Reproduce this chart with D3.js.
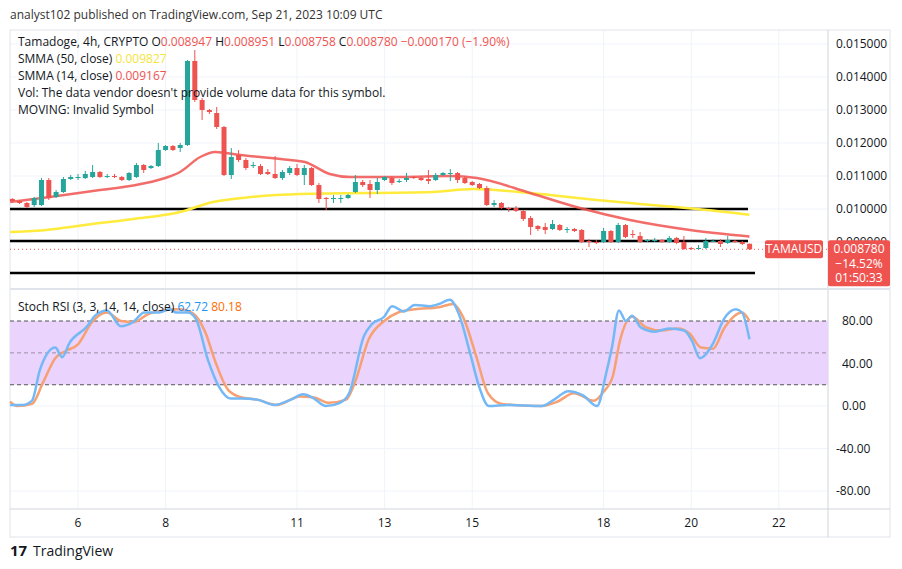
<!DOCTYPE html>
<html><head><meta charset="utf-8">
<script src="https://cdn.jsdelivr.net/npm/d3@7"></script>
<style>body{margin:0;background:#fff;font-family:"Open Sans","Noto Sans",sans-serif}</style>
</head><body><svg id="c" width="902" height="569"></svg>
<script>
// Candle data in millionths of a dollar (4h candles, first at Sep 4 12:00)
const firstDay = 4.5, candleStep = 1/6;
const opens  = [10303,10242,10182,10121,10121,10879,10364,10515,10909,10939,10939,10970,11121,10970,11000,10970,10879,10970,11333,11242,11303,11788,11909,11848,11939,14485,13303,13000,12909,12485,11030,11636,11485,11303,11303,11121,11061,10939,11091,11242,11030,11242,10727,10333,10303,10303,10333,10515,10818,10758,10576,10879,10939,10818,10879,10970,10939,10909,10879,11030,11061,11091,10939,10818,10758,10636,10121,10182,10030,10030,9939,9727,9485,9455,9394,9515,9364,9394,9364,9030,9000,9000,9333,9000,9515,9242,9182,9030,9030,9061,9000,9121,9000,8818,8788,8818,9030,9030,8970,9030,9000,8947];
const closes = [10242,10182,10061,10333,10879,10333,10515,10909,10970,10970,11061,11121,10970,11000,10970,10879,11091,11333,11182,11303,11788,11909,11788,11939,14485,13303,13000,12939,12485,11030,11576,11485,11242,11333,11061,11061,10939,11121,11242,11030,11242,10727,10303,10303,10333,10333,10424,10818,10727,10576,10818,10970,10788,10848,10939,10939,10879,10848,11030,11091,11091,10879,10788,10727,10636,10121,10182,10030,10000,9939,9697,9455,9394,9364,9545,9364,9394,9333,9000,9000,8970,9333,9000,9515,9152,9230,9000,9061,9061,9000,9121,8970,8788,8788,8818,9030,9035,8939,9061,9000,8939,8780];
const highs  = [10333,10273,10212,10364,10939,10939,10576,10970,11030,11061,11152,11333,11152,11061,11061,11000,11121,11394,11364,11333,12000,11939,11939,12000,14515,14818,13363,13030,13091,12515,11848,11788,11545,11424,11364,11212,11606,11182,11303,11364,11333,11273,10788,10364,10424,10424,10455,11030,10879,10879,10939,11000,11000,10909,11091,11000,11000,11182,11091,11121,11212,11121,11000,10848,10788,10697,10273,10212,10061,10091,9970,9788,9515,9576,9667,9545,9455,9424,9394,9091,9061,9424,9364,9576,9545,9364,9303,9091,9121,9091,9182,9152,9182,8848,8909,9121,9091,9091,9182,9061,9030,8951];
const lows   = [10212,10152,10030,10061,10091,10273,10333,10485,10879,10879,10909,10939,10939,10939,10939,10848,10848,10939,11091,11212,11273,11758,11758,11727,11909,13242,12697,12879,12424,11000,10909,11424,11182,11242,11030,11030,10909,10879,11030,11000,10727,10697,10182,9970,10182,10182,10303,10485,10667,10333,10455,10848,10727,10788,10818,10909,10848,10758,10848,11000,10848,10788,10758,10697,10606,10091,10061,10000,9909,9909,9636,9212,9333,9242,9364,9333,9273,9303,8970,8848,8939,8970,8970,8970,9121,9121,8970,9000,9000,8970,8970,8939,8758,8758,8758,8788,9000,8848,8939,8970,8909,8758];

// Moving averages (day, price)
const smma14Days = [4.45,5.36,6.50,7.19,7.99,8.33,8.79,9.13,9.70,10.84,11.18,11.75,12.21,13.35,14.49,15.11,16.32,17.46,18.60,19.97,21.33];
const smma14Vals = [0.010212,0.010364,0.010576,0.010697,0.010939,0.011121,0.011576,0.011727,0.011636,0.011485,0.011424,0.011061,0.010970,0.010970,0.011000,0.010939,0.010485,0.010030,0.009667,0.009364,0.009167];
const smma50Days = [4.45,4.97,6.50,7.26,8.33,9.08,9.54,11.07,14.10,15.02,16.32,17.85,19.36,20.13,21.33];
const smma50Vals = [0.009303,0.009333,0.009576,0.009697,0.009909,0.010212,0.010303,0.010455,0.010515,0.010606,0.010485,0.010273,0.010091,0.010000,0.009827];

// Stoch RSI
const kDays = [4.45,4.74,4.95,5.13,5.48,5.64,5.80,6.21,6.39,6.66,6.98,7.26,7.51,7.85,8.10,8.24,8.51,8.69,8.97,9.22,9.49,9.74,10.09,10.48,10.86,11.14,11.39,11.66,11.98,12.19,12.53,12.71,12.99,13.17,13.44,13.69,14.04,14.24,14.49,14.70,14.95,15.16,15.38,15.82,16.59,16.87,17.19,17.53,17.85,18.06,18.19,18.35,18.51,18.65,18.85,19.17,19.49,19.84,20.02,20.20,20.50,20.75,21.02,21.16,21.33];
const kVals = [1,1,5,34,55,46,59,75,85,90,75,79,88,88,91,88,88,82,43,18,7,7,6,1,6,11,7,0,3,12,66,77,84,94,89,95,94,96,100,86,50,18,0,1,0,6,14,10,0,31,55,90,80,85,74,70,73,71,61,45,59,82,91,88,62.72];
const dDays = [4.45,4.61,4.95,5.20,5.48,5.73,6.00,6.32,6.66,6.98,7.28,7.58,7.96,8.31,8.63,8.90,9.15,9.43,9.74,10.09,10.54,11.07,11.39,11.73,12.12,12.32,12.64,12.99,13.31,13.69,14.24,14.56,14.81,15.09,15.36,15.68,16.59,16.94,17.32,17.78,17.99,18.21,18.37,18.65,18.97,19.31,19.70,19.97,20.22,20.50,20.75,21.16,21.33];
const dVals = [4,0,2,22,45,52,58,79,88,80,79,86,90,91,87,70,40,15,8,6,1,9,8,3,6,22,63,80,88,91,93,96,82,47,12,2,0,4,12,5,13,28,61,84,74,71,73,68,55,54,73,88,80.18];

// Horizontal support/resistance lines (price)
const levels = [0.010000, 0.009030, 0.008061];
const priceTicks = [0.015,0.014,0.013,0.012,0.011,0.010,0.009];
const stochTicks = [80,40,0,-40,-80];
const dateTicks = [6,8,11,13,15,18,20,22];

const svg = d3.select("#c");
const L=10, R=828, pTop=30, pBot=289, sTop=290, sBot=509, axBot=537;
const x = d3.scaleLinear().domain([4.219, 4.219 + 828/43.8]).range([0,828]);
const y = d3.scaleLinear().domain([0.015,0.009]).range([44,242]);
const ys = d3.scaleLinear().domain([80,-80]).range([321,491]);

// frame / grid
const grid="#f0f3fa";
dateTicks.forEach(d=>svg.append("line").attr("x1",x(d)).attr("x2",x(d)).attr("y1",pTop).attr("y2",sBot).attr("stroke",grid));
priceTicks.forEach(p=>svg.append("line").attr("x1",L).attr("x2",R).attr("y1",y(p)).attr("y2",y(p)).attr("stroke",grid));
stochTicks.forEach(p=>svg.append("line").attr("x1",L).attr("x2",R).attr("y1",ys(p)).attr("y2",ys(p)).attr("stroke",grid));
svg.append("rect").attr("x",L).attr("y",pTop).attr("width",880).attr("height",axBot-pTop).attr("fill","none").attr("stroke","#e0e3eb");
svg.append("line").attr("x1",R).attr("x2",R).attr("y1",pTop).attr("y2",axBot).attr("stroke","#d1d4dc");
svg.append("line").attr("x1",L).attr("x2",890).attr("y1",pBot).attr("y2",pBot).attr("stroke","#e0e3eb").attr("stroke-width",2);
svg.append("line").attr("x1",L).attr("x2",890).attr("y1",sBot).attr("y2",sBot).attr("stroke","#d1d4dc");

// price axis labels
priceTicks.forEach(p=>svg.append("text").attr("x",836).attr("y",y(p)+4).attr("font-size",12).attr("fill","#131722").text(p.toFixed(6)));
stochTicks.forEach(p=>svg.append("text").attr("x",p<0?836:842).attr("y",ys(p)+4).attr("font-size",12).attr("fill","#131722").text(p.toFixed(2)));
dateTicks.forEach(d=>svg.append("text").attr("x",x(d)).attr("y",527).attr("text-anchor","middle").attr("font-size",12).attr("fill","#131722").text(d));

// stoch band (under lines)
svg.append("rect").attr("x",L).attr("y",ys(80)).attr("width",R-L).attr("height",ys(20)-ys(80)).attr("fill","#ead3fc");
[80,50,20].forEach(v=>svg.append("line").attr("x1",L).attr("x2",R).attr("y1",ys(v)).attr("y2",ys(v)).attr("stroke",v==50?"#9a8fa8":"#555").attr("stroke-dasharray","4,3"));

// levels
levels.forEach((p,i)=>svg.append("line").attr("x1",L).attr("x2",i==2?755:748).attr("y1",y(p)).attr("y2",y(p)).attr("stroke","#000").attr("stroke-width",2.5));

// SMMA lines
const line=d3.line().curve(d3.curveMonotoneX);
svg.append("path").attr("d",line(smma50Days.map((d,i)=>[x(d),y(smma50Vals[i])]))).attr("fill","none").attr("stroke","#ffeb3b").attr("stroke-width",2.5);
svg.append("path").attr("d",line(smma14Days.map((d,i)=>[x(d),y(smma14Vals[i])]))).attr("fill","none").attr("stroke","#f05350").attr("stroke-width",2.5).attr("opacity",0.85);

// candles
const up="#26a69a", dn="#ef5350", cw=5;
opens.forEach((o,i)=>{
  const t=firstDay+i*candleStep, cx=x(t), c=closes[i], col=c>=o?up:dn;
  svg.append("line").attr("x1",cx).attr("x2",cx).attr("y1",y(highs[i]/1e6)).attr("y2",y(lows[i]/1e6)).attr("stroke",col);
  const yt=y(Math.max(o,c)/1e6), yb=y(Math.min(o,c)/1e6);
  svg.append("rect").attr("x",cx-cw/2).attr("y",yt).attr("width",cw).attr("height",Math.max(1,yb-yt)).attr("fill",col);
});

// last price line & labels
const last=closes[closes.length-1]/1e6;
svg.append("line").attr("x1",L).attr("x2",R).attr("y1",y(last)).attr("y2",y(last)).attr("stroke",dn).attr("stroke-dasharray","1,3");
svg.append("rect").attr("x",765).attr("y",y(last)-9).attr("width",58).attr("height",18).attr("fill",dn).attr("rx",2);
svg.append("text").attr("x",794).attr("y",y(last)+4).attr("text-anchor","middle").attr("font-size",12).attr("fill","#fff").text("TAMAUSD");
svg.append("rect").attr("x",R).attr("y",y(last)-9).attr("width",62).attr("height",46).attr("fill",dn).attr("rx",2);
["0.008780","−14.52%","01:50:33"].forEach((s,i)=>svg.append("text").attr("x",859).attr("y",y(last)+4+i*14.5).attr("text-anchor","middle").attr("font-size",12).attr("fill","#fff").text(s));

// stoch lines
const sl=d3.line().curve(d3.curveMonotoneX);
svg.append("path").attr("d",sl(dDays.map((d,i)=>[x(d),ys(dVals[i])]))).attr("fill","none").attr("stroke","#f7a072").attr("stroke-width",2.5);
svg.append("path").attr("d",sl(kDays.map((d,i)=>[x(d),ys(kVals[i])]))).attr("fill","none").attr("stroke","#74b9f5").attr("stroke-width",2.5);

// legends
svg.append("text").attr("x",10).attr("y",19).attr("font-size",12).attr("fill","#333").text("analyst102 published on TradingView.com, Sep 21, 2023 10:09 UTC");
const lg=(yy,parts)=>{const t=svg.append("text").attr("x",18).attr("y",yy).attr("font-size",12);parts.forEach(([s,c])=>t.append("tspan").attr("fill",c).text(s));};
lg(46,[["Tamadoge, 4h, CRYPTO  O","#131722"],["0.008947","#ef5350"],["  H","#131722"],["0.008951","#ef5350"],["  L","#131722"],["0.008758","#ef5350"],["  C","#131722"],["0.008780","#ef5350"],["  −0.000170 (−1.90%)","#ef5350"]]);
lg(63,[["SMMA (50, close)  ","#131722"],["0.009827","#f5e33a"]]);
lg(80,[["SMMA (14, close)  ","#131722"],["0.009167","#ef5350"]]);
lg(97,[["Vol: The data vendor doesn't provide volume data for this symbol.","#131722"]]);
lg(114,[["MOVING: Invalid Symbol","#131722"]]);
lg(311,[["Stoch RSI (3, 3, 14, 14, close)  ","#131722"],["62.72","#2196f3"],["  80.18","#ff6d00"]]);
svg.append("text").attr("x",10).attr("y",556).attr("font-size",15).attr("font-weight","bold").attr("fill","#131722").text("17");
svg.append("text").attr("x",33).attr("y",556).attr("font-size",14).attr("fill","#131722").text("TradingView");
</script></body></html>
